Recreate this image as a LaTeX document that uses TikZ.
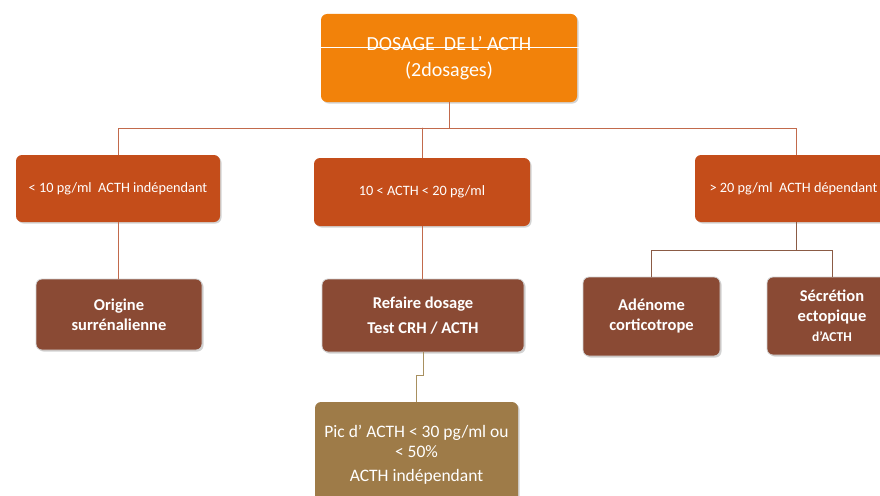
\documentclass[tikz,border=0pt]{standalone}
\usepackage{fontspec}
\setmainfont{Carlito}
\usetikzlibrary{shadows}
\definecolor{acthorange}{HTML}{F2820A}
\definecolor{acthrust}{HTML}{C44D1A}
\definecolor{acthbrown}{HTML}{8A4A34}
\definecolor{acthtan}{HTML}{9E7B48}
\definecolor{linkrust}{HTML}{C26A4C}
\definecolor{linkbrown}{HTML}{8B5B45}
\definecolor{linktan}{HTML}{A89060}

\begin{document}
\begin{tikzpicture}[x=1pt,y=-1pt,line cap=round,
  box/.style={rounded corners=6pt,text=white,align=center,inner sep=2pt,
    drop shadow={opacity=0.35,shadow xshift=1.5pt,shadow yshift=-1.5pt}},
  topbox/.style={box,fill=acthorange,font=\fontsize{20}{26}\selectfont},
  rangebox/.style={box,fill=acthrust,font=\fontsize{14.3}{17}\selectfont},
  causebox/.style={box,fill=acthbrown,draw=white!82!black,line width=0.8pt,
    font=\bfseries\fontsize{16.5}{20}\selectfont},
  resultbox/.style={box,fill=acthtan,font=\fontsize{17.5}{19.5}\selectfont},
  link/.style={linkrust,line width=0.8pt},
  sublink/.style={linkbrown,line width=0.8pt},
  piclink/.style={linktan,line width=0.8pt}]
\useasboundingbox (0,0) rectangle (880,495);

% top
\node[topbox,minimum width=256pt,minimum height=88pt] (dosage) at (449,58)
  {DOSAGE\ \ DE L’ ACTH\\(2dosages)};
\draw[white,line width=0.8pt] (321,47) -- (590,47);

% ranges
\node[rangebox,minimum width=204pt,minimum height=67pt] (low) at (118,188.5)
  {< 10 pg/ml\ \ ACTH indépendant};
\node[rangebox,minimum width=216pt,minimum height=68pt] (mid) at (422,192)
  {10 < ACTH < 20 pg/ml};
\node[rangebox,minimum width=202pt,minimum height=67pt] (high) at (796,188.5)
  {> 20 pg/ml\ \ ACTH dépendant\hspace*{5pt}};

% causes
\node[causebox,minimum width=166pt,minimum height=71pt] (origine) at (119,314.5)
  {Origine\\surrénalienne};
\node[causebox,minimum width=202pt,minimum height=73pt] (refaire) at (423,315.5)
  {Refaire dosage\\[5pt]Test CRH / ACTH};
\node[causebox,minimum width=137pt,minimum height=79pt] (adenome) at (651.5,316.5)
  {Adénome\\corticotrope};
\node[causebox,minimum width=130pt,minimum height=78pt] (ectop) at (832,316)
  {Sécrétion\\ectopique\\{\fontsize{13.5}{18}\selectfont d’ACTH}};

% result
\node[resultbox,minimum width=203pt,minimum height=106pt] (pic) at (416.5,455)
  {Pic d’ ACTH < 30 pg/ml ou\\< 50\%\\[5pt]ACTH indépendant};

% connectors
\coordinate (bus) at (449,128);
\draw[link] (dosage.south) -- (bus);
\draw[link] (bus) -| (low.north);
\draw[link] (bus) -| (high.north);
\draw[link] (mid.north |- bus) -- (mid.north);
\draw[link] (low.south) -- (low.south |- origine.north);
\draw[link] (mid.south) -- (mid.south |- refaire.north);
\draw[sublink] (high.south) -- ++(0,28) coordinate (bus2);
\draw[sublink] (bus2) -| (adenome.north);
\draw[sublink] (bus2) -| (ectop.north);
\draw[piclink] (refaire.south) -- ++(0,23) -| (pic.north);
\end{tikzpicture}
\end{document}
